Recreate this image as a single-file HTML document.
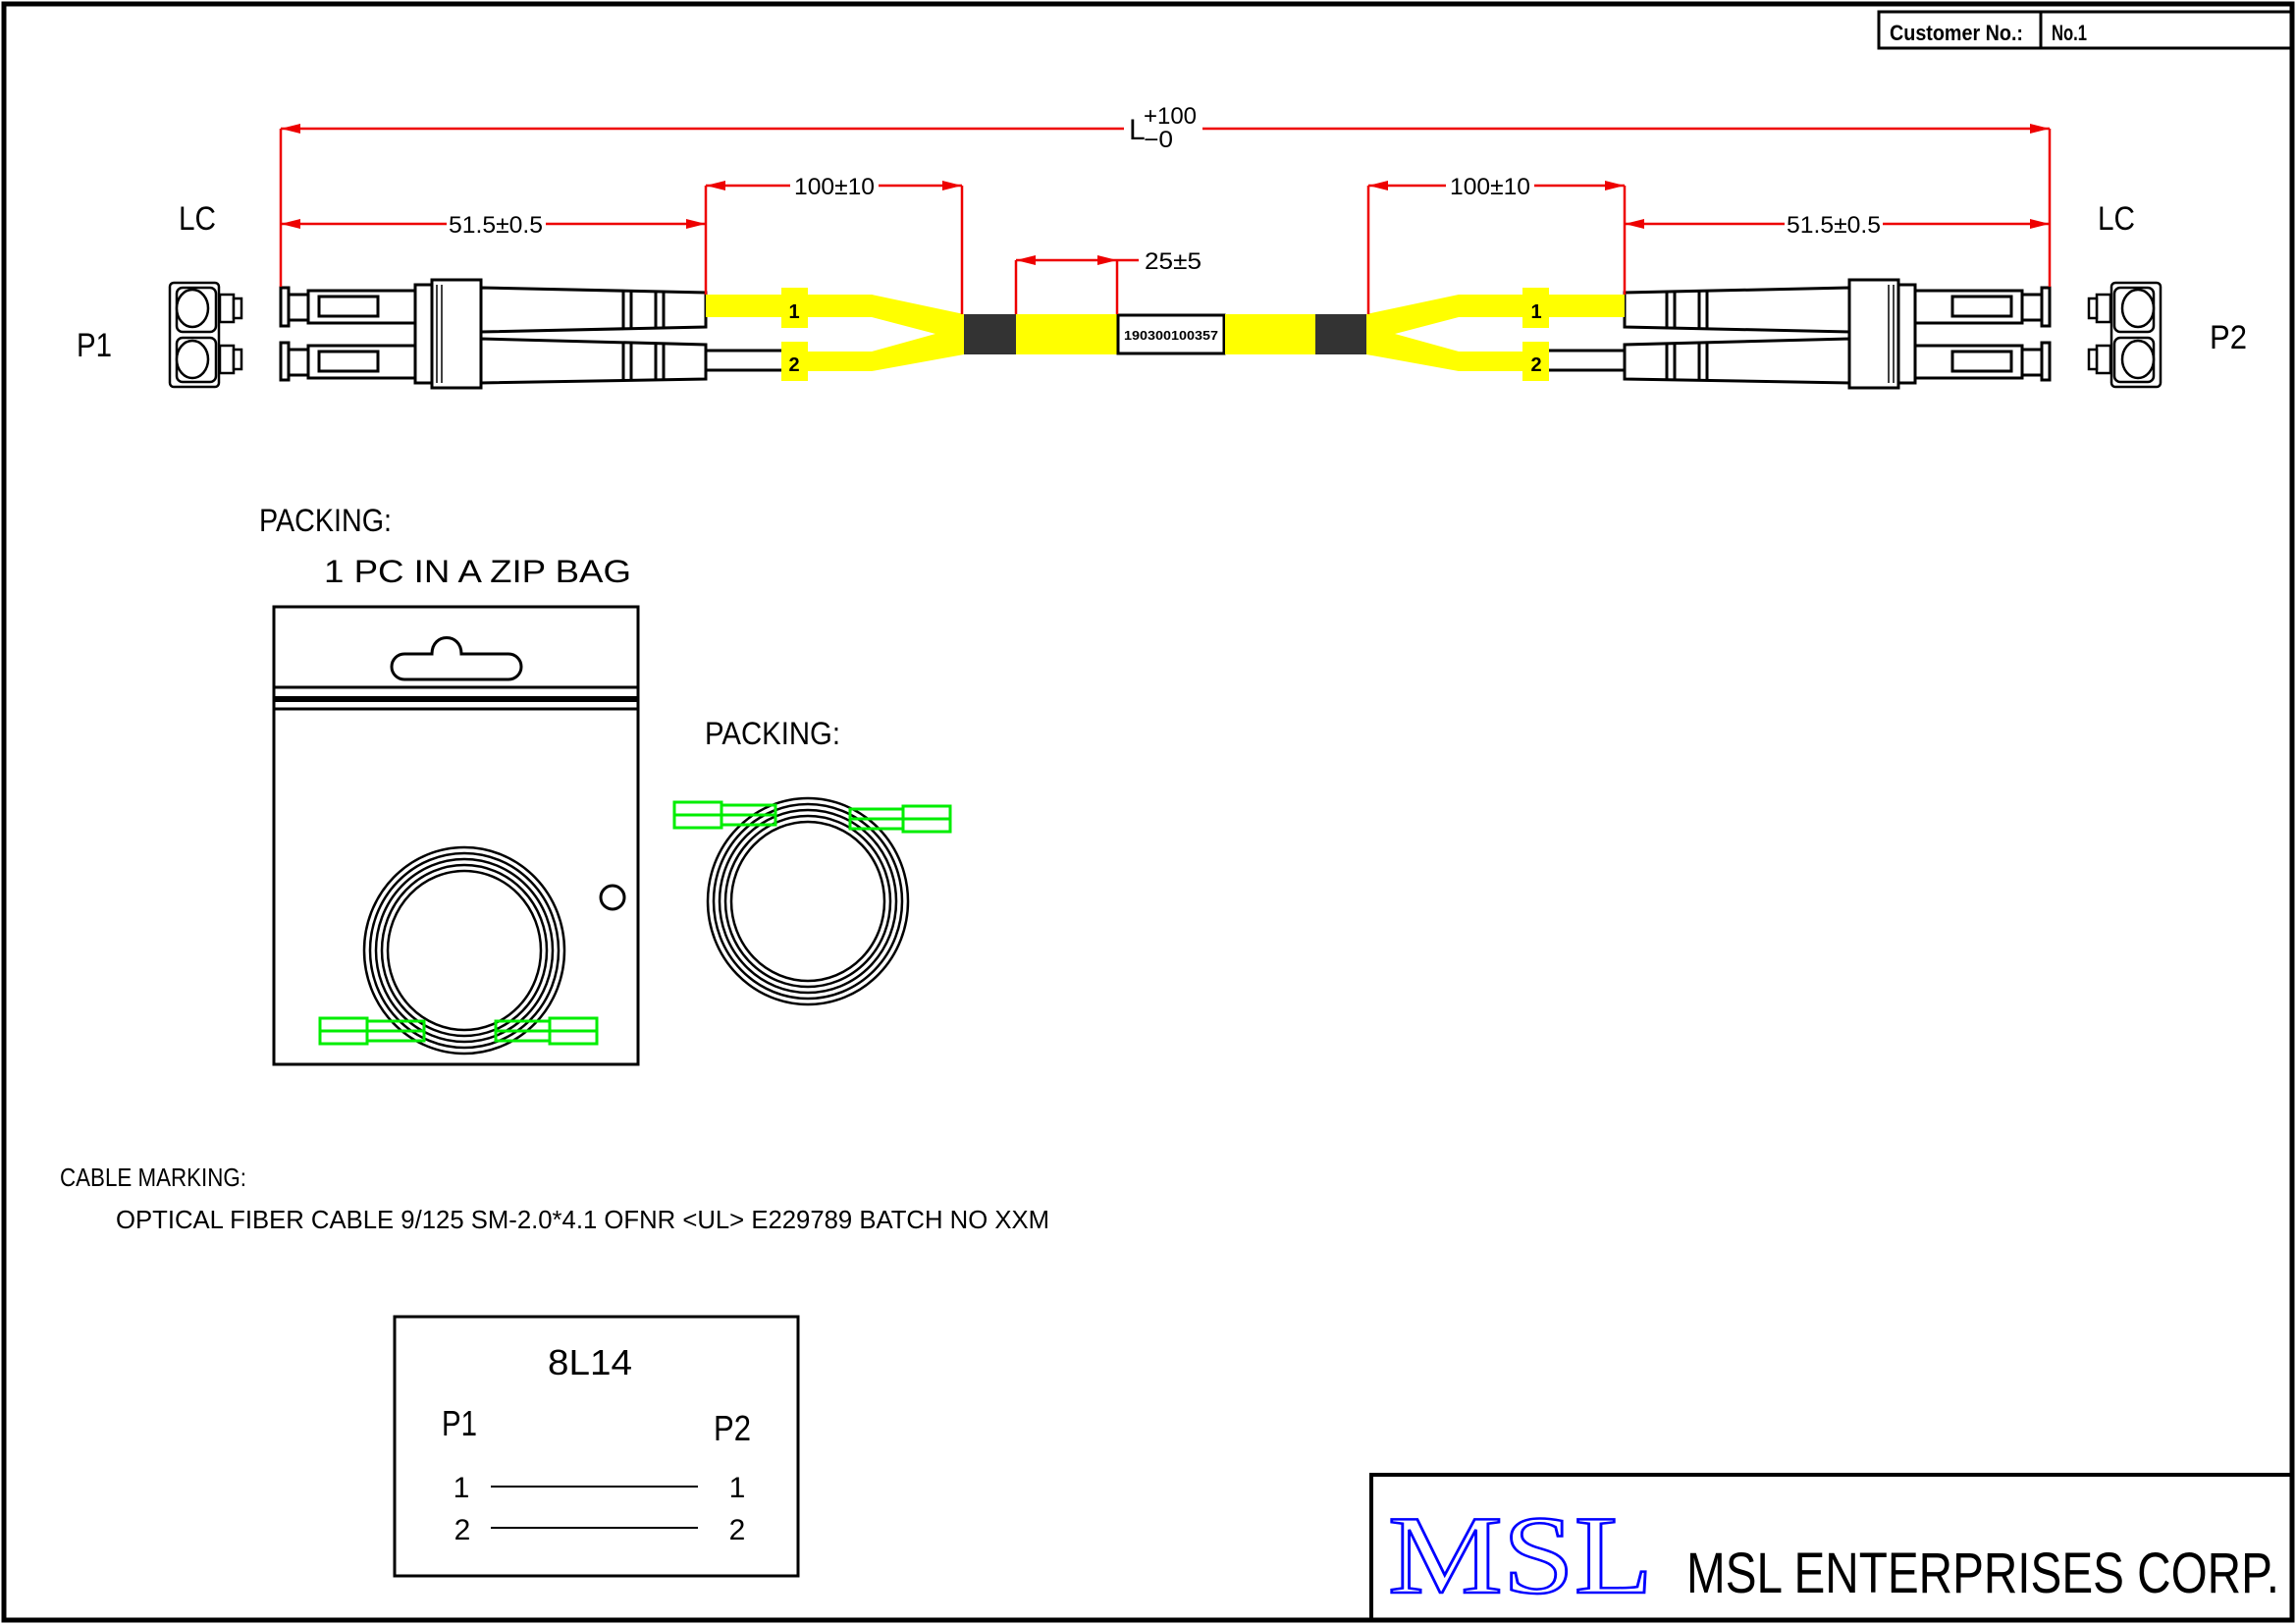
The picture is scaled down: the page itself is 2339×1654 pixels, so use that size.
<!DOCTYPE html>
<html><head><meta charset="utf-8"><style>
html,body{margin:0;padding:0;background:#fff;}
svg{display:block;}
text{font-family:"Liberation Sans",sans-serif;}
</style></head><body>
<svg width="2339" height="1654" viewBox="0 0 2339 1654" xmlns="http://www.w3.org/2000/svg">
<defs>
<marker id="a" viewBox="0 0 20 10" refX="20" refY="5" markerWidth="20" markerHeight="10" markerUnits="userSpaceOnUse" orient="auto-start-reverse"><path d="M0,0 L20,5 L0,10 Z" fill="#e00"/></marker>
<g id="conn">
 <g fill="#fff" stroke="#000" stroke-width="2.5">
  <rect x="173" y="288" width="50" height="106" rx="4"/>
  <rect x="180" y="293" width="40" height="45" rx="6"/>
  <ellipse cx="196" cy="314" rx="16" ry="19"/>
  <rect x="180" y="344" width="40" height="45" rx="6"/>
  <ellipse cx="196" cy="366" rx="16" ry="19"/>
  <rect x="224" y="300" width="14" height="28"/>
  <rect x="224" y="352" width="14" height="28"/>
  <rect x="238" y="304" width="8" height="20"/>
  <rect x="238" y="356" width="8" height="20"/>
 </g>
 <g fill="#fff" stroke="#000" stroke-width="3">
  <rect x="286" y="293" width="8" height="39"/>
  <rect x="286" y="349" width="8" height="38"/>
  <rect x="294" y="300" width="20" height="26"/>
  <rect x="294" y="356" width="20" height="26"/>
  <rect x="314" y="296" width="128" height="33"/>
  <rect x="314" y="352" width="128" height="33"/>
  <rect x="325" y="302" width="60" height="20"/>
  <rect x="325" y="358" width="60" height="20"/>
  <path d="M490,293 L719,298 L719,333 L490,338 Z"/>
  <path d="M490,345 L719,351 L719,386 L490,390 Z"/>
  <rect x="440" y="285" width="50" height="110"/>
  <rect x="423" y="290" width="17" height="100"/>
 </g>
 <g stroke="#000" stroke-width="3">
  <line x1="635" y1="297" x2="635" y2="334"/><line x1="643" y1="297" x2="643" y2="334"/>
  <line x1="668" y1="297" x2="668" y2="334"/><line x1="676" y1="297" x2="676" y2="334"/>
  <line x1="635" y1="350" x2="635" y2="388"/><line x1="643" y1="350" x2="643" y2="388"/>
  <line x1="668" y1="350" x2="668" y2="388"/><line x1="676" y1="350" x2="676" y2="388"/>
  <line x1="445" y1="290" x2="445" y2="390" stroke-width="1.5"/>
  <line x1="450" y1="290" x2="450" y2="390" stroke-width="1.5"/>
  <line x1="719" y1="357" x2="796" y2="357"/>
  <line x1="719" y1="377" x2="796" y2="377"/>
 </g>
 <path d="M719,300 L888,300 L982,320 L982,361 L888,378 L822,378 L822,358 L888,358 L953,340 L888,323 L719,323 Z" fill="#ff0"/>
 <rect x="796" y="293" width="27" height="41" fill="#ff0"/>
 <rect x="796" y="348" width="27" height="40" fill="#ff0"/>
 <rect x="982" y="320" width="54" height="41" fill="#333"/>
</g>
</defs>

<rect x="4" y="4" width="2331" height="1646" fill="none" stroke="#000" stroke-width="5"/>
<rect x="1914" y="12" width="421" height="37" fill="none" stroke="#000" stroke-width="3"/>
<line x1="2079" y1="12" x2="2079" y2="49" stroke="#000" stroke-width="3"/>
<text x="1925" y="41" font-size="22" font-weight="bold" textLength="136" lengthAdjust="spacingAndGlyphs">Customer No.:</text>
<text x="2090" y="41" font-size="22" font-weight="bold" textLength="36" lengthAdjust="spacingAndGlyphs">No.1</text>

<use href="#conn"/>
<use href="#conn" transform="translate(2374,0) scale(-1,1)"/>
<g font-size="20" font-weight="bold" text-anchor="middle">
 <text x="809" y="324">1</text>
 <text x="809" y="378">2</text>
 <text x="1565" y="324">1</text>
 <text x="1565" y="378">2</text>
</g>
<rect x="1035" y="320" width="104" height="41" fill="#ff0"/>
<rect x="1139" y="321" width="108" height="39" fill="#fff" stroke="#000" stroke-width="3"/>
<text x="1193" y="346" font-size="13" font-weight="bold" text-anchor="middle" textLength="96" lengthAdjust="spacingAndGlyphs">190300100357</text>
<rect x="1248" y="320" width="92" height="41" fill="#ff0"/>

<g stroke="#e00" stroke-width="2.5" fill="none">
 <line x1="286" y1="131" x2="286" y2="292"/>
 <line x1="2088" y1="131" x2="2088" y2="292"/>
 <line x1="719" y1="189" x2="719" y2="300"/>
 <line x1="980" y1="189" x2="980" y2="320"/>
 <line x1="1035" y1="265" x2="1035" y2="320"/>
 <line x1="1138" y1="265" x2="1138" y2="320"/>
 <line x1="1394" y1="189" x2="1394" y2="320"/>
 <line x1="1655" y1="189" x2="1655" y2="300"/>
 <line x1="286" y1="131" x2="1145" y2="131" marker-start="url(#a)"/>
 <line x1="1225" y1="131" x2="2088" y2="131" marker-end="url(#a)"/>
 <line x1="286" y1="228" x2="455" y2="228" marker-start="url(#a)"/>
 <line x1="556" y1="228" x2="719" y2="228" marker-end="url(#a)"/>
 <line x1="719" y1="189" x2="805" y2="189" marker-start="url(#a)"/>
 <line x1="895" y1="189" x2="980" y2="189" marker-end="url(#a)"/>
 <line x1="1035" y1="265" x2="1138" y2="265" marker-start="url(#a)" marker-end="url(#a)"/>
 <line x1="1138" y1="265" x2="1160" y2="265"/>
 <line x1="1394" y1="189" x2="1473" y2="189" marker-start="url(#a)"/>
 <line x1="1563" y1="189" x2="1655" y2="189" marker-end="url(#a)"/>
 <line x1="1655" y1="228" x2="1818" y2="228" marker-start="url(#a)"/>
 <line x1="1918" y1="228" x2="2088" y2="228" marker-end="url(#a)"/>
</g>
<g font-size="24">
 <text x="505" y="237" text-anchor="middle" textLength="96" lengthAdjust="spacingAndGlyphs">51.5±0.5</text>
 <text x="1868" y="237" text-anchor="middle" textLength="96" lengthAdjust="spacingAndGlyphs">51.5±0.5</text>
 <text x="850" y="198" text-anchor="middle" textLength="82" lengthAdjust="spacingAndGlyphs">100±10</text>
 <text x="1518" y="198" text-anchor="middle" textLength="82" lengthAdjust="spacingAndGlyphs">100±10</text>
 <text x="1166" y="274" textLength="58" lengthAdjust="spacingAndGlyphs">25±5</text>
 <text x="1150" y="142" font-size="30">L</text>
 <text x="1165" y="126" textLength="54" lengthAdjust="spacingAndGlyphs">+100</text>
 <text x="1165" y="150" textLength="30" lengthAdjust="spacingAndGlyphs">−0</text>
</g>
<g font-size="34">
 <text x="182" y="234" textLength="38" lengthAdjust="spacingAndGlyphs">LC</text>
 <text x="2137" y="234" textLength="38" lengthAdjust="spacingAndGlyphs">LC</text>
 <text x="78" y="363" textLength="36" lengthAdjust="spacingAndGlyphs">P1</text>
 <text x="2251" y="355" textLength="38" lengthAdjust="spacingAndGlyphs">P2</text>
</g>

<g font-size="32">
 <text x="264" y="541" textLength="135" lengthAdjust="spacingAndGlyphs">PACKING:</text>
 <text x="330" y="593" textLength="313" lengthAdjust="spacingAndGlyphs" xml:space="preserve">1 PC IN A ZIP BAG</text>
 <text x="718" y="758" textLength="138" lengthAdjust="spacingAndGlyphs">PACKING:</text>
</g>
<rect x="279" y="618" width="371" height="466" fill="none" stroke="#000" stroke-width="3"/>
<line x1="279" y1="700" x2="650" y2="700" stroke="#000" stroke-width="3"/>
<rect x="279" y="709" width="371" height="6" fill="#000"/>
<line x1="279" y1="722" x2="650" y2="722" stroke="#000" stroke-width="3"/>
<path d="M412,666 L440,666 C440,644 470,644 470,666 L518,666 A13,13 0 0 1 518,692 L412,692 A13,13 0 0 1 412,666 Z" fill="none" stroke="#000" stroke-width="3"/>
<circle cx="624" cy="914" r="12" fill="none" stroke="#000" stroke-width="3"/>
<g fill="none" stroke="#000" stroke-width="2.5">
 <ellipse cx="473" cy="968" rx="102" ry="105"/>
 <ellipse cx="473" cy="968" rx="96" ry="99"/>
 <ellipse cx="473" cy="968" rx="90" ry="93"/>
 <ellipse cx="473" cy="968" rx="84" ry="87"/>
 <ellipse cx="473" cy="968" rx="78" ry="81"/>
 <ellipse cx="823" cy="918" rx="102" ry="105"/>
 <ellipse cx="823" cy="918" rx="96" ry="99"/>
 <ellipse cx="823" cy="918" rx="90" ry="93"/>
 <ellipse cx="823" cy="918" rx="84" ry="87"/>
 <ellipse cx="823" cy="918" rx="78" ry="81"/>
</g>
<g fill="none" stroke="#0e0" stroke-width="3">
 <rect x="326" y="1037" width="48" height="26"/><rect x="374" y="1040" width="58" height="20"/>
 <line x1="326" y1="1050" x2="432" y2="1050"/>
 <rect x="560" y="1037" width="48" height="26"/><rect x="505" y="1040" width="55" height="20"/>
 <line x1="505" y1="1050" x2="608" y2="1050"/>
 <rect x="687" y="817" width="48" height="26"/><rect x="735" y="820" width="55" height="20"/>
 <line x1="687" y1="830" x2="790" y2="830"/>
 <rect x="920" y="821" width="48" height="26"/><rect x="866" y="824" width="54" height="20"/>
 <line x1="866" y1="834" x2="968" y2="834"/>
</g>

<g font-size="26">
 <text x="61" y="1208" textLength="190" lengthAdjust="spacingAndGlyphs">CABLE MARKING:</text>
 <text x="118" y="1251" textLength="951" lengthAdjust="spacingAndGlyphs">OPTICAL FIBER CABLE 9/125 SM-2.0*4.1 OFNR &lt;UL&gt; E229789 BATCH NO XXM</text>
</g>

<rect x="402" y="1341" width="411" height="264" fill="none" stroke="#000" stroke-width="3"/>
<g font-size="36">
 <text x="601" y="1400" text-anchor="middle" textLength="86" lengthAdjust="spacingAndGlyphs">8L14</text>
 <text x="450" y="1462" textLength="36" lengthAdjust="spacingAndGlyphs">P1</text>
 <text x="727" y="1467" textLength="38" lengthAdjust="spacingAndGlyphs">P2</text>
</g>
<g font-size="30">
 <text x="470" y="1525" text-anchor="middle">1</text>
 <text x="751" y="1525" text-anchor="middle">1</text>
 <text x="471" y="1568" text-anchor="middle">2</text>
 <text x="751" y="1568" text-anchor="middle">2</text>
</g>
<line x1="500" y1="1514" x2="711" y2="1514" stroke="#000" stroke-width="2"/>
<line x1="500" y1="1556" x2="711" y2="1556" stroke="#000" stroke-width="2"/>

<rect x="1397" y="1502" width="938" height="148" fill="none" stroke="#000" stroke-width="4"/>
<text x="1414" y="1622" style="font-family:'Liberation Serif',serif" font-size="114" fill="none" stroke="#00f" stroke-width="2.5" textLength="270" lengthAdjust="spacingAndGlyphs">MSL</text>
<text x="1718" y="1622" font-size="58" textLength="604" lengthAdjust="spacingAndGlyphs">MSL ENTERPRISES CORP.</text>
</svg>
</body></html>
